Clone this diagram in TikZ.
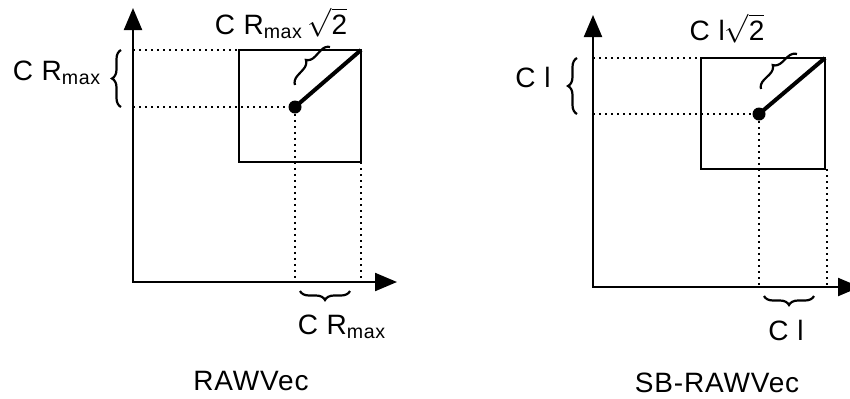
\documentclass[tikz,border=0pt]{standalone}
\usepackage{fontspec}
\setmainfont{Liberation Sans}[LetterSpace=3]
\usepackage{tikz}
\usetikzlibrary{arrows.meta, decorations.pathreplacing}

\begin{document}
\begin{tikzpicture}[x=0.5pt, y=-0.5pt, every node/.style={font=\fontsize{14}{16}\selectfont, inner sep=0pt},
    axis/.style={line width=1.1pt, {Triangle[length=11pt, width=9pt]}-{Triangle[length=11pt, width=9pt]}},
    dots/.style={line width=1pt, dash pattern=on 1pt off 2pt},
    curly/.style={decorate, decoration={brace, amplitude=4.5pt}, line width=1.1pt}]
  \useasboundingbox (0,0) rectangle (850,398);

  % RAWVec
  \coordinate (o1) at (133,282);
  \coordinate (ytip1) at (133,8);
  \coordinate (xtip1) at (397,282);
  \coordinate (nw1) at (239,50);
  \coordinate (ne1) at (361,50);
  \coordinate (se1) at (361,162);
  \coordinate (b1a) at (295,85);
  \coordinate (b1b) at (330,47);
  \draw[axis] (ytip1) -- (o1) -- (xtip1);
  \draw[line width=1pt] (nw1) rectangle (se1);
  \node[circle, fill, minimum size=6.5pt] (d1) at (295,107) {};
  \draw[dots] (o1 |- nw1) -- (nw1);
  \draw[dots] (o1 |- d1) -- (d1);
  \draw[dots] (d1) -- (d1 |- o1);
  \draw[dots] (se1) -- (se1 |- o1);
  \draw[line width=2pt] (d1.center) -- (ne1);
  \draw[curly] ([xshift=-6pt]o1 |- d1) -- ([xshift=-6pt]o1 |- nw1);
  \draw[curly] ([shift={(-11,9)}]se1 |- o1) -- ([shift={(5,9)}]d1 |- o1);
  \draw[curly] (b1a) -- (b1b);
  \node[anchor=base] (side1) at (57,80) {C R\textsubscript{max}};
  \node[anchor=base] (diag1) at (281,34) {C R\textsubscript{max}\,$\sqrt{\mbox{2}}$};
  \node[anchor=base] (bot1) at (342,334) {C R\textsubscript{max}};
  \node[anchor=base] (name1) at (251,390) {RAWVec};

  % SB-RAWVec
  \coordinate (o2) at (593,287);
  \coordinate (ytip2) at (593,15);
  \coordinate (xtip2) at (860,287);
  \coordinate (nw2) at (701,58);
  \coordinate (ne2) at (825,58);
  \coordinate (se2) at (825,169);
  \coordinate (b2a) at (761,89);
  \coordinate (b2b) at (797,54);
  \draw[axis] (ytip2) -- (o2) -- (xtip2);
  \draw[line width=1pt] (nw2) rectangle (se2);
  \node[circle, fill, minimum size=6.5pt] (d2) at (759,114) {};
  \draw[dots] (o2 |- nw2) -- (nw2);
  \draw[dots] (o2 |- d2) -- (d2);
  \draw[dots] (d2) -- (d2 |- o2);
  \draw[dots] ([xshift=1pt]se2) -- ([xshift=1pt]se2 |- o2);
  \draw[line width=2pt] (d2.center) -- (ne2);
  \draw[curly] ([xshift=-8pt]o2 |- d2) -- ([xshift=-8pt]o2 |- nw2);
  \draw[curly] ([shift={(-11,9)}]se2 |- o2) -- ([shift={(5,9)}]d2 |- o2);
  \draw[curly] (b2a) -- (b2b);
  \node[anchor=base] (side2) at (533,87) {C l};
  \node[anchor=base] (diag2) at (727,40) {C l$\sqrt{\mbox{2}}$};
  \node[anchor=base] (bot2) at (786,340) {C l};
  \node[anchor=base] (name2) at (717,392) {SB-RAWVec};
\end{tikzpicture}
\end{document}
